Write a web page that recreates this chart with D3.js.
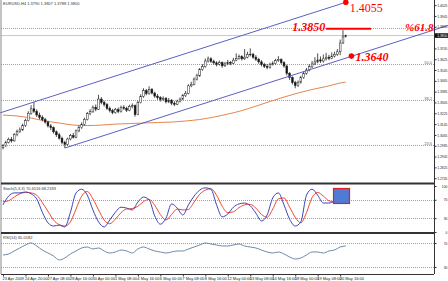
<!DOCTYPE html>
<html>
<head>
<meta charset="utf-8">
<script src="https://cdn.jsdelivr.net/npm/d3@7"></script>
<style>
body { margin: 0; background: #fff; }
svg { display: block; font-family: "Liberation Sans", Arial, sans-serif; }
</style>
</head>
<body>
<script>
// EURUSD H4 candles, open of each bar = close of the bar before
var firstOpen = 1.2970;
var closes = [
  1.2985,1.3010,1.3032,1.3021,1.3068,1.3090,1.3102,1.3135,1.3171,1.3225,
  1.3258,1.3240,1.3212,1.3195,1.3178,1.3160,1.3132,1.3119,1.3088,1.3066,
  1.3041,1.3010,1.2995,1.3035,1.3060,1.3048,1.3095,1.3120,1.3142,1.3180,
  1.3222,1.3238,1.3270,1.3255,1.3330,1.3305,1.3290,1.3262,1.3245,1.3230,
  1.3252,1.3238,1.3270,1.3262,1.3248,1.3275,1.3281,1.3215,1.3305,1.3350,
  1.3392,1.3370,1.3401,1.3375,1.3352,1.3340,1.3328,1.3335,1.3310,1.3322,
  1.3300,1.3292,1.3315,1.3330,1.3355,1.3372,1.3428,1.3440,1.3478,1.3502,
  1.3548,1.3570,1.3612,1.3628,1.3610,1.3598,1.3588,1.3600,1.3576,1.3590,
  1.3602,1.3595,1.3618,1.3630,1.3645,1.3628,1.3640,1.3660,1.3662,1.3640,
  1.3625,1.3605,1.3585,1.3572,1.3565,1.3588,1.3592,1.3615,1.3622,1.3600,
  1.3575,1.3520,1.3490,1.3452,1.3430,1.3455,1.3490,1.3520,1.3545,1.3570,
  1.3590,1.3605,1.3620,1.3612,1.3628,1.3640,1.3632,1.3648,1.3660,1.3680,
  1.3745,1.3790,1.3800
];
var highs = [
  1.2998,1.3022,1.3045,1.3050,1.3078,1.3105,1.3120,1.3148,1.3185,1.3240,
  1.3285,1.3308,1.3255,1.3230,1.3210,1.3192,1.3170,1.3145,1.3128,1.3098,
  1.3080,1.3052,1.3022,1.3045,1.3072,1.3080,1.3105,1.3135,1.3158,1.3192,
  1.3235,1.3255,1.3282,1.3290,1.3362,1.3345,1.3318,1.3300,1.3275,1.3258,
  1.3265,1.3268,1.3282,1.3285,1.3275,1.3288,1.3298,1.3290,1.3318,1.3365,
  1.3410,1.3405,1.3425,1.3412,1.3385,1.3368,1.3352,1.3350,1.3345,1.3338,
  1.3330,1.3315,1.3325,1.3342,1.3368,1.3390,1.3440,1.3458,1.3490,1.3518,
  1.3560,1.3588,1.3630,1.3645,1.3640,1.3622,1.3610,1.3615,1.3608,1.3605,
  1.3620,1.3612,1.3635,1.3668,1.3660,1.3655,1.3700,1.3680,1.3705,1.3672,
  1.3655,1.3635,1.3618,1.3598,1.3590,1.3600,1.3610,1.3628,1.3648,1.3632,
  1.3610,1.3585,1.3530,1.3498,1.3465,1.3468,1.3502,1.3535,1.3560,1.3588,
  1.3612,1.3640,1.3668,1.3645,1.3660,1.3672,1.3658,1.3675,1.3680,1.3700,
  1.3770,1.3840,1.3807
];
var lows = [
  1.2958,1.2975,1.3002,1.3008,1.3015,1.3055,1.3080,1.3095,1.3125,1.3165,
  1.3215,1.3228,1.3198,1.3180,1.3165,1.3148,1.3120,1.3100,1.3075,1.3050,
  1.3030,1.2995,1.2968,1.2985,1.3025,1.3038,1.3040,1.3085,1.3110,1.3135,
  1.3172,1.3210,1.3228,1.3240,1.3250,1.3292,1.3275,1.3250,1.3232,1.3218,
  1.3222,1.3225,1.3230,1.3250,1.3235,1.3240,1.3262,1.3200,1.3210,1.3298,
  1.3340,1.3358,1.3362,1.3365,1.3340,1.3325,1.3312,1.3318,1.3298,1.3300,
  1.3285,1.3278,1.3285,1.3305,1.3322,1.3345,1.3365,1.3418,1.3432,1.3468,
  1.3495,1.3540,1.3562,1.3600,1.3598,1.3585,1.3572,1.3578,1.3562,1.3568,
  1.3582,1.3580,1.3588,1.3610,1.3622,1.3615,1.3620,1.3632,1.3645,1.3628,
  1.3612,1.3592,1.3572,1.3560,1.3550,1.3555,1.3578,1.3585,1.3605,1.3588,
  1.3562,1.3505,1.3472,1.3438,1.3410,1.3420,1.3445,1.3480,1.3510,1.3535,
  1.3560,1.3582,1.3595,1.3598,1.3600,1.3615,1.3618,1.3625,1.3638,1.3650,
  1.3655,1.3738,1.3788
];

// moving average, sampled at these bars
var maBars = [0,5,10,15,20,25,30,35,40,45,50,55,60,65,70,75,80,85,90,95,100,105,110,115,120,122];
var maValues = [1.3212,1.3205,1.3190,1.3168,1.3153,1.3138,1.3134,1.3138,1.3145,1.3149,
  1.3153,1.3157,1.3160,1.3168,1.3179,1.3197,1.3219,1.3245,1.3278,1.3312,
  1.3345,1.3375,1.3401,1.3423,1.3449,1.3456];

// oscillators, every second bar
var oscStep = 2;
var stochK = [59,78,85,85,87,83,72,43,20,13, 15,11,43,85,93,80,48,22,11,26,
  43,54,52,48,65,76,70,35,17,30, 61,52,37,59,78,91,96,93,59,33,
  39,54,61,63,57,41,24,37,74,85, 59,28,13,22,80,93,80,63,63,67, 70,67];
var stochD = [66,68,76,83,86,85,80,64,45,26, 16,13,22,50,78,88,72,48,26,18,
  28,42,50,51,56,66,71,58,38,26, 38,50,48,49,65,82,91,94,80,56,
  42,44,53,59,60,52,38,32,50,72, 74,54,32,20,42,75,86,78,68,65, 67,68];
var rsi = [50,51.7,56.7,61.7,66.7,70,65,58.3,53.3,48.3, 41.7,45,51.7,56.7,61.7,63.3,60,61.7,56.7,53.3,
  55,58.3,56.7,53.3,60,63.3,60,56.7,55,53.3, 55,56.7,56.7,60,63.3,66.7,70,68.3,66.7,65,
  65,66.7,68.3,65,63.3,61.7,58.3,55,53.3,55, 51.7,46.7,43.3,45,50,55,55,53.3,56.7,58.3, 63.3,65];

// drawn objects
var fibHigh = 1.4720, fibLow = 1.2457;
var fibLevels = [61.8, 50.0, 38.2, 23.6];
var channelUpper = [[0, 1.3235], [122, 1.4046]];
var channelLower = [[22, 1.2968], [122, 1.3633]];
var targetLine = {from: 115, to: 131, price: 1.3850, label: "1.3850", tag: "%61.8"};
var markers = [{bar: 122, price: 1.4046, label: "1.4055"}, {bar: 124, price: 1.3648, label: "1.3640"}];

var priceTicks = [1.4025,1.3945,1.3865,1.3705,1.3625,1.3545,1.3465,1.3385,1.3305,1.3225,1.3145,1.3065,1.2985,1.2905,1.2825,1.2745];
var lastPrice = 1.3800;
var header = "EURUSD,H4  1.3790 1.3807 1.3788 1.3800";
var stochTitle = "Stoch(5,3,3) 70.4516 68.2183";
var rsiTitle = "RSI(14) 65.0182";
var dateBars = [0,8,16,24,32,40,48,56,64,72,80,88,96,104,112,120];
var dateLabels = ["23 Apr 2009","24 Apr 20:00","27 Apr 08:00","28 Apr 16:00","30 Apr 00:00","1 May 08:00",
  "4 May 16:00","6 May 00:00","7 May 08:00","8 May 16:00","12 May 00:00","13 May 08:00",
  "14 May 16:00","18 May 00:00","19 May 08:00","20 May 16:00"];

var W = 448, H = 281, axisX = 434;

var svg = d3.select("body").append("svg").attr("width", W).attr("height", H);

var x = d3.scaleLinear().domain([0, 122]).range([3, 345.8]);
var y = d3.scaleLinear().domain([1.2702, 1.4063]).range([184, 0]);
var yS = d3.scaleLinear().domain([0, 100]).range([232, 186]);
var yR = d3.scaleLinear().domain([18.3, 85]).range([274, 234]);

svg.append("clipPath").attr("id", "main").append("rect")
  .attr("x", 1).attr("y", 0).attr("width", axisX - 1).attr("height", 183);
svg.append("clipPath").attr("id", "sto").append("rect")
  .attr("x", 1).attr("y", 185).attr("width", axisX - 1).attr("height", 47);
svg.append("clipPath").attr("id", "rs").append("rect")
  .attr("x", 1).attr("y", 234).attr("width", axisX - 1).attr("height", 40);

var main = svg.append("g").attr("clip-path", "url(#main)");

// fibo levels (the 61.8 one is tagged by the red text instead)
fibLevels.forEach(function(l){
  var yy = Math.round(y(fibLow + l / 100 * (fibHigh - fibLow))) + 0.5;
  main.append("line").attr("x1", 1).attr("x2", axisX).attr("y1", yy).attr("y2", yy)
    .attr("stroke", "#a0a0a0").attr("stroke-dasharray", "1,1");
  if (l !== 61.8) {
    svg.append("text").attr("x", axisX - 2).attr("y", yy - 1).attr("text-anchor", "end")
      .attr("font-size", 4).attr("fill", "#666").text(l.toFixed(1));
  }
});

// bid line
main.append("line").attr("x1", 1).attr("x2", axisX)
  .attr("y1", y(lastPrice)).attr("y2", y(lastPrice)).attr("stroke", "#c8c8c8");

// moving average
main.append("path").datum(maBars)
  .attr("fill", "none").attr("stroke", "#e4864e").attr("stroke-width", 1)
  .attr("d", d3.line().curve(d3.curveMonotoneX)
    .x(function(b){ return x(b); })
    .y(function(b, i){ return y(maValues[i]); }));

// channel
function chanAt(ch, b) {
  return ch[0][1] + (ch[1][1] - ch[0][1]) * (b - ch[0][0]) / (ch[1][0] - ch[0][0]);
}
var upStart = x.invert(0);
svg.append("line")
  .attr("x1", x(upStart)).attr("y1", y(chanAt(channelUpper, upStart)))
  .attr("x2", x(channelUpper[1][0])).attr("y2", y(channelUpper[1][1]))
  .attr("stroke", "#5b5fc4").attr("stroke-width", 1);
var loEnd = x.invert(W);
svg.append("line")
  .attr("x1", x(channelLower[0][0])).attr("y1", y(channelLower[0][1]))
  .attr("x2", x(loEnd)).attr("y2", y(chanAt(channelLower, loEnd)))
  .attr("stroke", "#5b5fc4").attr("stroke-width", 1);

// candles
var bars = closes.map(function(c, i){
  return {i: i, o: i === 0 ? firstOpen : closes[i - 1], h: highs[i], l: lows[i], c: c};
});
var cg = main.selectAll("g.bar").data(bars).enter().append("g");
cg.append("line")
  .attr("x1", function(d){ return x(d.i); }).attr("x2", function(d){ return x(d.i); })
  .attr("y1", function(d){ return y(d.h); }).attr("y2", function(d){ return y(d.l); })
  .attr("stroke", "#222").attr("stroke-width", 0.8);
cg.append("rect")
  .attr("x", function(d){ return x(d.i) - 0.9; })
  .attr("width", 1.8)
  .attr("y", function(d){ return y(Math.max(d.o, d.c)); })
  .attr("height", function(d){ return Math.max(0.6, Math.abs(y(d.o) - y(d.c))); })
  .attr("fill", function(d){ return d.c >= d.o ? "#fff" : "#111"; })
  .attr("stroke", "#222").attr("stroke-width", 0.5);

// target line and labels
var ty = y(targetLine.price);
svg.append("line").attr("x1", x(targetLine.from)).attr("x2", x(targetLine.to))
  .attr("y1", ty).attr("y2", ty).attr("stroke", "#ff0000").attr("stroke-width", 2);
svg.append("text").attr("x", x(targetLine.from) - 1).attr("y", ty + 2)
  .attr("text-anchor", "end").attr("font-family", "Liberation Serif")
  .attr("font-style", "italic").attr("font-weight", "bold")
  .attr("font-size", 12).attr("fill", "#ff0000").text(targetLine.label);
svg.append("text").attr("x", 405).attr("y", ty + 2)
  .attr("font-family", "Liberation Serif").attr("font-style", "italic").attr("font-weight", "bold")
  .attr("font-size", 11).attr("fill", "#ff0000").text(targetLine.tag);

markers.forEach(function(m, k){
  var mx = x(m.bar), my = y(m.price);
  svg.append("circle").attr("cx", mx).attr("cy", my).attr("r", 2.8).attr("fill", "#ff0000");
  svg.append("text").attr("x", mx + 4).attr("y", my + (k === 0 ? 10 : 5))
    .attr("font-family", "Liberation Serif")
    .attr("font-weight", k === 0 ? "normal" : "bold")
    .attr("font-style", k === 0 ? "normal" : "italic")
    .attr("font-size", 12).attr("fill", "#ff0000").text(m.label);
});

svg.append("text").attr("x", 3).attr("y", 5).attr("font-size", 4).attr("fill", "#333").text(header);

// stochastic panel
var sto = svg.append("g").attr("clip-path", "url(#sto)");
[70, 30].forEach(function(v){
  var yy = Math.round(yS(v)) + 0.5;
  sto.append("line").attr("x1", 1).attr("x2", axisX).attr("y1", yy).attr("y2", yy)
    .attr("stroke", "#a0a0a0").attr("stroke-dasharray", "1,1");
});
var oscLine = function(sc){
  return d3.line().curve(d3.curveMonotoneX)
    .x(function(v, i){ return x(i * oscStep); })
    .y(function(v){ return sc(v); });
};
sto.append("path").datum(stochD).attr("fill", "none").attr("stroke", "#ee4a2e")
  .attr("stroke-width", 1).attr("d", oscLine(yS));
sto.append("path").datum(stochK).attr("fill", "none").attr("stroke", "#3c44b8")
  .attr("stroke-width", 1).attr("d", oscLine(yS));
svg.append("rect").attr("x", 333.5).attr("y", 188.5).attr("width", 16).attr("height", 15)
  .attr("fill", "#4f7bd6").attr("stroke", "#e02020").attr("stroke-width", 1.2);
svg.append("text").attr("x", 3).attr("y", 190).attr("font-size", 4).attr("fill", "#333").text(stochTitle);

// rsi panel
var rs = svg.append("g").attr("clip-path", "url(#rs)");
[70, 30].forEach(function(v){
  var yy = Math.round(yR(v)) + 0.5;
  rs.append("line").attr("x1", 1).attr("x2", axisX).attr("y1", yy).attr("y2", yy)
    .attr("stroke", "#a0a0a0").attr("stroke-dasharray", "1,1");
});
rs.append("path").datum(rsi).attr("fill", "none").attr("stroke", "#6d8aa6")
  .attr("stroke-width", 1).attr("d", oscLine(yR));
svg.append("text").attr("x", 3).attr("y", 239).attr("font-size", 4).attr("fill", "#333").text(rsiTitle);

// frames
svg.append("line").attr("x1", 1).attr("x2", 1).attr("y1", 0).attr("y2", 274).attr("stroke", "#888");
svg.append("line").attr("x1", axisX + 0.5).attr("x2", axisX + 0.5).attr("y1", 0).attr("y2", 274).attr("stroke", "#333");
[[183.5, 2], [233, 2]].forEach(function(s){
  svg.append("line").attr("x1", 1).attr("x2", axisX).attr("y1", s[0]).attr("y2", s[0])
    .attr("stroke", "#333").attr("stroke-width", s[1]);
});
svg.append("line").attr("x1", 1).attr("x2", axisX).attr("y1", 274.5).attr("y2", 274.5).attr("stroke", "#333");

// right-hand axes, labels kept inside the picture
var labelEnd = W - 0.5 - (axisX + 0.5);
function styleRight(a) {
  a.select(".domain").remove();
  a.selectAll("text").attr("font-size", 3.4).attr("fill", "#222")
    .attr("text-anchor", "end").attr("x", labelEnd);
  a.selectAll("line").attr("stroke", "#333");
}
var pAxis = svg.append("g").attr("transform", "translate(" + (axisX + 0.5) + ",0)")
  .call(d3.axisRight(y).tickValues(priceTicks).tickSize(2).tickFormat(d3.format(".4f")));
styleRight(pAxis);
var bidY = y(lastPrice);
svg.append("rect").attr("x", axisX + 1).attr("y", bidY - 2.3).attr("width", W - axisX - 1).attr("height", 4.6).attr("fill", "#111");
svg.append("text").attr("x", W - 0.5).attr("y", bidY + 1.3).attr("text-anchor", "end")
  .attr("font-size", 3.4).attr("fill", "#fff").text(d3.format(".4f")(lastPrice));

var sAxis = svg.append("g").attr("transform", "translate(" + (axisX + 0.5) + ",0)")
  .call(d3.axisRight(yS).tickValues([100, 70, 30, 0]).tickSize(2));
styleRight(sAxis);
var rAxis = svg.append("g").attr("transform", "translate(" + (axisX + 0.5) + ",0)")
  .call(d3.axisRight(yR).tickValues([70, 30]).tickSize(2));
styleRight(rAxis);

// time axis
var tAxis = svg.append("g").attr("transform", "translate(0,274.5)")
  .call(d3.axisBottom(x).tickValues(dateBars).tickSize(2).tickPadding(1)
    .tickFormat(function(b, i){ return dateLabels[i]; }));
tAxis.select(".domain").remove();
tAxis.selectAll("line").attr("stroke", "#333");
tAxis.selectAll("text").attr("font-size", 4).attr("fill", "#222")
  .attr("text-anchor", "start").attr("dx", -1);
</script>
</body>
</html>
